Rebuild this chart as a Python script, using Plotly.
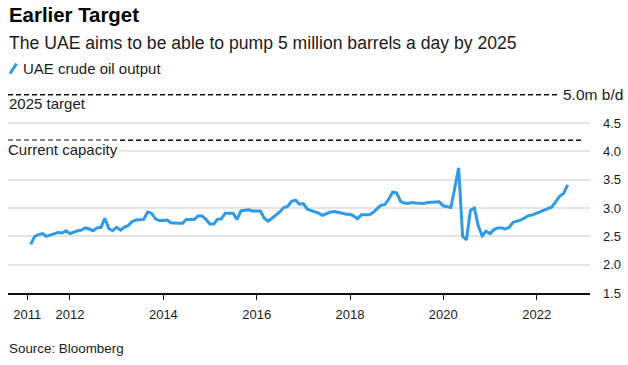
import plotly.graph_objects as go
import pandas as pd

# ---- data (monthly, month-end, Feb 2011 - Aug 2022), million barrels/day ----
start_month = "2011-02-28"
output_2011 = [2.36, 2.50, 2.53, 2.55, 2.50, 2.52, 2.55, 2.57, 2.56, 2.60, 2.55]
output_2012 = [2.58, 2.60, 2.61, 2.65, 2.63, 2.60, 2.65, 2.66, 2.82, 2.64, 2.60, 2.66]
output_2013 = [2.61, 2.66, 2.69, 2.76, 2.79, 2.80, 2.80, 2.93, 2.91, 2.81, 2.78, 2.78]
output_2014 = [2.79, 2.74, 2.73, 2.73, 2.73, 2.80, 2.80, 2.80, 2.86, 2.86, 2.80, 2.72]
output_2015 = [2.72, 2.80, 2.81, 2.91, 2.91, 2.91, 2.80, 2.95, 2.96, 2.97, 2.95, 2.95]
output_2016 = [2.95, 2.82, 2.77, 2.82, 2.88, 2.93, 3.01, 3.03, 3.12, 3.14, 3.07, 3.08]
output_2017 = [2.98, 2.96, 2.93, 2.91, 2.87, 2.90, 2.93, 2.94, 2.93, 2.91, 2.89, 2.89]
output_2018 = [2.86, 2.81, 2.88, 2.88, 2.88, 2.92, 2.98, 3.05, 3.06, 3.16, 3.28, 3.27]
output_2019 = [3.12, 3.09, 3.08, 3.10, 3.09, 3.08, 3.08, 3.10, 3.10, 3.10, 3.11, 3.04]
output_2020 = [3.02, 3.01, 3.36, 3.71, 2.50, 2.44, 2.96, 3.00, 2.69, 2.51, 2.59, 2.55]
output_2021 = [2.62, 2.65, 2.65, 2.63, 2.66, 2.75, 2.77, 2.79, 2.83, 2.87, 2.88, 2.91]
output_2022 = [2.94, 2.97, 3.00, 3.02, 3.12, 3.21, 3.26, 3.41]

current_capacity = 4.2
target_2025 = 5.0

x_tick_dates = ["2011-02-01", "2012-01-01", "2014-01-01", "2016-01-01",
                "2018-01-01", "2020-01-01", "2022-01-01"]
x_tick_labels = ["2011", "2012", "2014", "2016", "2018", "2020", "2022"]
y_tick_vals = [1.5, 2.0, 2.5, 3.0, 3.5, 4.0, 4.5]
y_tick_labels = ["1.5", "2.0", "2.5", "3.0", "3.5", "4.0", "4.5"]

values = (output_2011 + output_2012 + output_2013 + output_2014 + output_2015 +
          output_2016 + output_2017 + output_2018 + output_2019 + output_2020 +
          output_2021 + output_2022)
dates = pd.date_range(start=start_month, periods=len(values), freq="ME")

# ---- layout geometry (pixels) ----
W, H = 628, 365
L, R = 8, 590
T, B = 91.8, 292.7

def px(x):
    return (x - L) / (R - L)

def py(y):
    return (B - y) / (B - T)

FONT = "Liberation Sans, Arial, sans-serif"
BLUE = "#2f9ae6"
TXT = "#1a1a1a"

fig = go.Figure()
fig.add_trace(go.Scatter(
    x=dates, y=values, mode="lines",
    line=dict(color=BLUE, width=3),
    name="UAE crude oil output", showlegend=False,
    hoverinfo="skip",
))

shapes = [
    # 2025 target
    dict(type="line", xref="paper", yref="y", x0=0, x1=px(557),
         y0=target_2025, y1=target_2025,
         line=dict(color="#111", width=1.5, dash="5px,3px")),
    # current capacity
    dict(type="line", xref="paper", yref="y", x0=0, x1=px(582),
         y0=current_capacity, y1=current_capacity,
         line=dict(color="#111", width=1.5, dash="5px,3px")),
    # legend icon (slash)
    dict(type="line", xref="paper", yref="paper",
         x0=px(10), x1=px(16.5), y0=py(73.5), y1=py(63.5),
         line=dict(color=BLUE, width=3)),
]

annotations = [
    dict(text="<b>Earlier Target</b>", x=px(7), y=py(15), xref="paper", yref="paper",
         xanchor="left", yanchor="middle", showarrow=False,
         font=dict(family=FONT, size=20.4, color="#000")),
    dict(text="The UAE aims to be able to pump 5 million barrels a day by 2025",
         x=px(7), y=py(43), xref="paper", yref="paper",
         xanchor="left", yanchor="middle", showarrow=False,
         font=dict(family=FONT, size=17.6, color=TXT)),
    dict(text="UAE crude oil output", x=px(21), y=py(68), xref="paper", yref="paper",
         xanchor="left", yanchor="middle", showarrow=False,
         font=dict(family=FONT, size=15, color=TXT)),
    dict(text="2025 target", x=px(7), y=py(103), xref="paper", yref="paper",
         xanchor="left", yanchor="middle", showarrow=False,
         font=dict(family=FONT, size=15, color=TXT)),
    dict(text="Current capacity", x=px(7), y=py(149.5), xref="paper", yref="paper",
         xanchor="left", yanchor="middle", showarrow=False, bgcolor="white",
         borderpad=0,
         font=dict(family=FONT, size=15, color=TXT)),
    dict(text="5.0m b/d", x=px(561), y=target_2025, xref="paper", yref="y",
         xanchor="left", yanchor="middle", showarrow=False,
         font=dict(family=FONT, size=15.5, color=TXT)),
    dict(text="Source: Bloomberg", x=px(7), y=py(348), xref="paper", yref="paper",
         xanchor="left", yanchor="middle", showarrow=False,
         font=dict(family=FONT, size=13.4, color=TXT)),
]

fig.update_layout(
    width=W, height=H,
    margin=dict(l=L, r=W - R, t=T, b=H - B, pad=0),
    paper_bgcolor="white", plot_bgcolor="white",
    font=dict(family=FONT, size=13, color=TXT),
    showlegend=False,
    shapes=shapes,
    annotations=annotations,
    xaxis=dict(
        type="date",
        range=["2010-09-03", "2023-02-22"],
        tickvals=x_tick_dates, ticktext=x_tick_labels,
        showgrid=False, zeroline=False,
        showline=True, linecolor="#111", linewidth=1.5,
        ticks="outside", ticklen=5, tickcolor="#111", tickwidth=1.2,
        ticklabelstandoff=4,
        tickfont=dict(family=FONT, size=13, color=TXT),
        fixedrange=True,
    ),
    yaxis=dict(
        range=[1.5, 5.05],
        side="right",
        tickvals=y_tick_vals, ticktext=y_tick_labels,
        showgrid=True, gridcolor="#e5e5e5", gridwidth=2,
        zeroline=False, showline=False, ticks="",
        ticklabelstandoff=12,
        tickfont=dict(family=FONT, size=13, color=TXT),
        fixedrange=True,
    ),
)

fig.write_html(
    "out.html",
    config={"displayModeBar": False},
    post_script="document.body.style.margin='0';document.body.style.overflow='hidden';",
)
